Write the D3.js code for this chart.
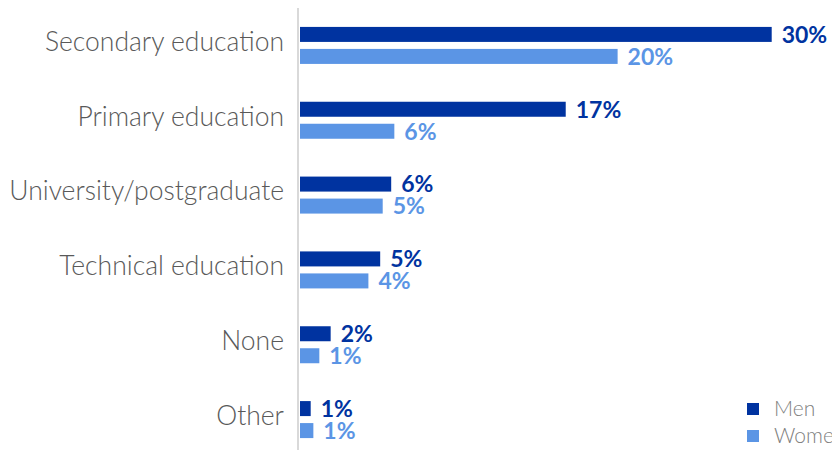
<!DOCTYPE html>
<html>
<head>
<meta charset="utf-8">
<script src="https://cdn.jsdelivr.net/npm/d3@7"></script>
<style>
  body { margin: 0; background: #fff; }
  svg { display: block; font-family: "Lato", "Open Sans", sans-serif; }
</style>
</head>
<body>
<script>
var categories = ["Secondary education", "Primary education", "University/postgraduate",
                  "Technical education", "None", "Other"],
    men   = [30.0, 16.9, 5.8, 5.1, 1.95, 0.68],
    women = [20.2, 6.0, 5.26, 4.35, 1.23, 0.85],
    menLabels   = ["30%", "17%", "6%", "5%", "2%", "1%"],
    womenLabels = ["20%", "6%", "5%", "4%", "1%", "1%"],
    seriesNames = ["Men", "Women"],
    colors = ["#0033a0", "#5b95e5"];

var width = 832,
    height = 450,
    x0 = 300;

var xSc = d3.scaleLinear()
  .domain([0, 30])
  .range([x0, 771.7]);

var ySc = d3.scaleBand()
  .domain(categories)
  .range([8, 457]);

var barH = 15, gap = 7;

var svg = d3.select("body").append("svg")
  .attr("width", width)
  .attr("height", height);

// category labels
svg.selectAll("text.cat")
  .data(categories)
  .enter()
    .append("text")
    .attr("class", "cat")
    .attr("x", 284)
    .attr("y", function(d) { return ySc(d) + ySc.bandwidth() / 2 - 4; })
    .attr("dy", "0.35em")
    .attr("text-anchor", "end")
    .style("font-size", "26.5px")
    .style("font-weight", 300)
    .style("fill", "#595959")
    .text(function(d) { return d; });

var series = [men, women],
    labels = [menLabels, womenLabels];

series.forEach(function(vals, s) {
  var g = svg.append("g");
  var yOf = function(i) {
    var mid = ySc(categories[i]) + ySc.bandwidth() / 2;
    return mid - barH - gap / 2 + s * (barH + gap);
  };
  g.selectAll("rect")
    .data(vals)
    .enter()
      .append("rect")
      .attr("x", xSc(0))
      .attr("y", function(d, i) { return yOf(i); })
      .attr("width", function(d) { return xSc(d) - xSc(0); })
      .attr("height", barH)
      .style("fill", colors[s]);
  g.selectAll("text")
    .data(vals)
    .enter()
      .append("text")
      .attr("x", function(d) { return xSc(d) + 10; })
      .attr("y", function(d, i) { return yOf(i) + barH / 2; })
      .attr("dy", "0.36em")
      .style("font-size", "23px")
      .style("font-weight", "bold")
      .style("fill", colors[s])
      .text(function(d, i) { return labels[s][i]; });
});

// axis line
svg.append("line")
  .attr("x1", 298).attr("x2", 298)
  .attr("y1", 8).attr("y2", height)
  .style("stroke", "#d9d9d9")
  .style("stroke-width", 2);

// legend
var leg = svg.selectAll("g.leg")
  .data(seriesNames)
  .enter()
    .append("g")
    .attr("class", "leg")
    .attr("transform", function(d, i) { return "translate(747," + (403 + i * 27) + ")"; });

leg.append("rect")
  .attr("width", 12)
  .attr("height", 12)
  .style("fill", function(d, i) { return colors[i]; });

leg.append("text")
  .attr("x", 27)
  .attr("y", 6)
  .attr("dy", "0.35em")
  .style("font-size", "21px")
  .style("font-weight", 300)
  .style("fill", "#7f7f7f")
  .text(function(d) { return d; });
</script>
</body>
</html>
